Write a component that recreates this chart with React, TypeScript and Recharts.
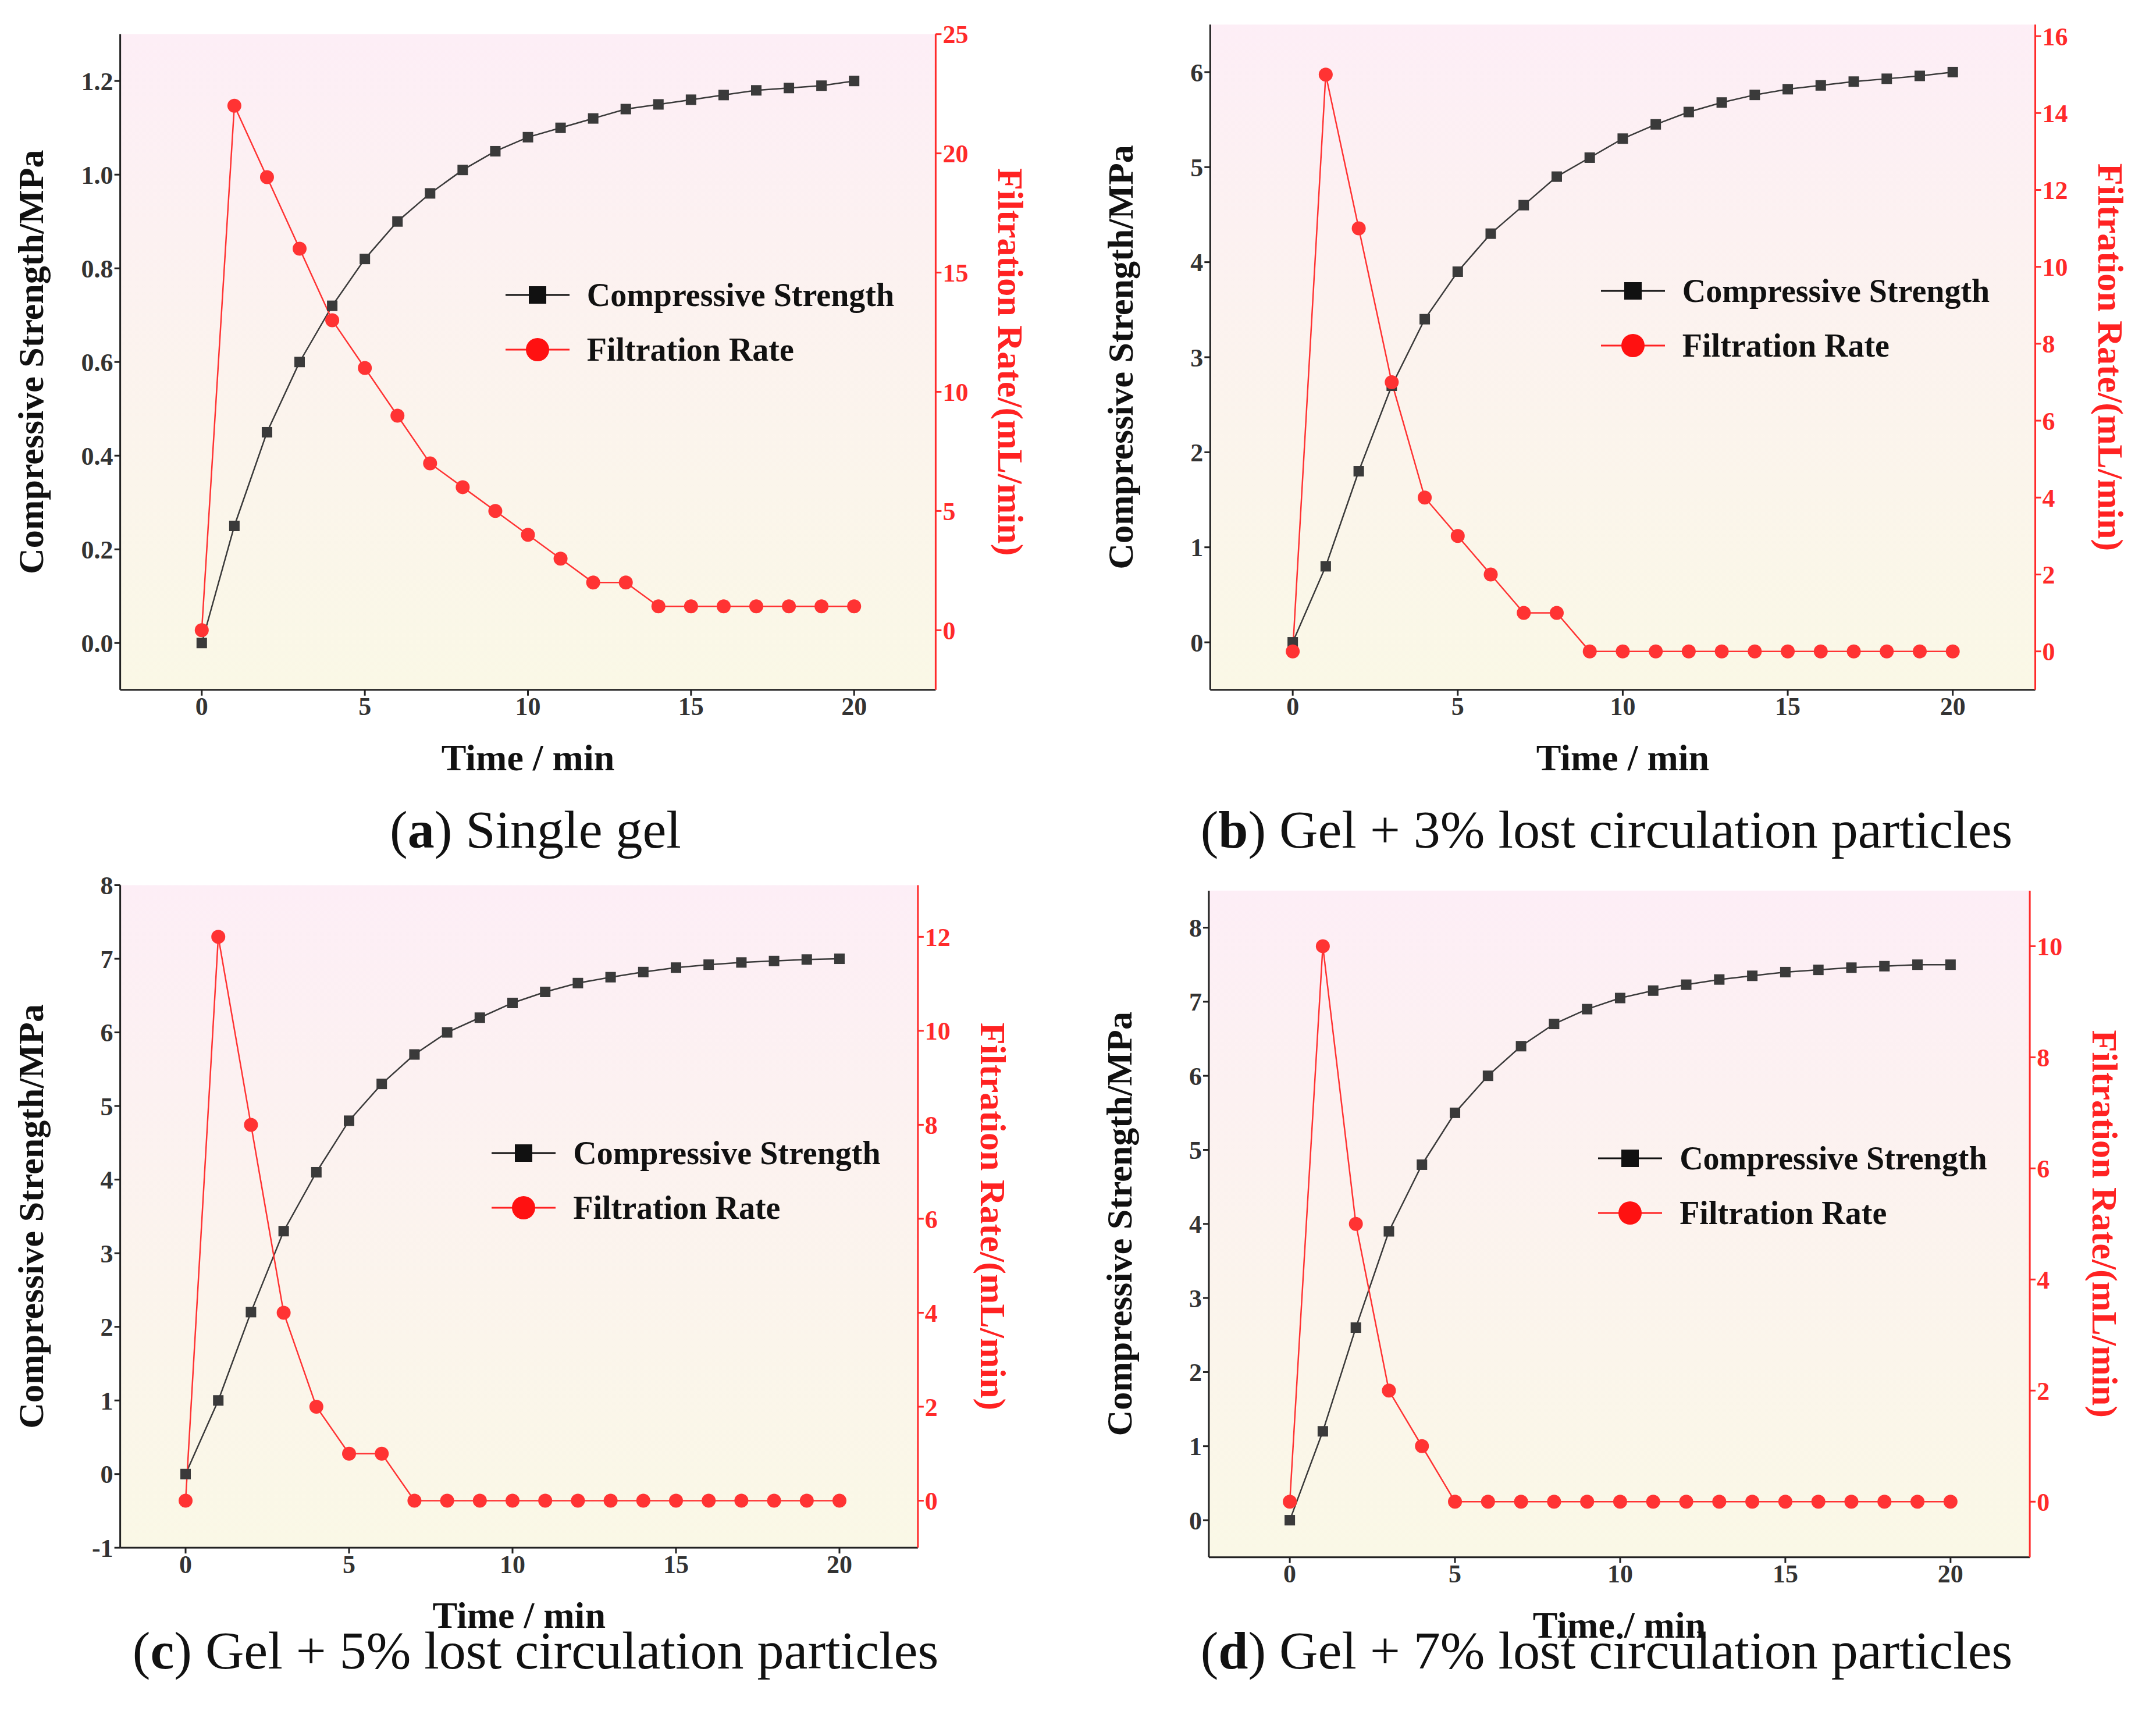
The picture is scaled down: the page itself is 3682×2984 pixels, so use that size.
import React from 'react';
import { ComposedChart, Line, XAxis, YAxis, CartesianGrid } from 'recharts';

const times = [0, 1, 2, 3, 4, 5, 6, 7, 8, 9, 10, 11, 12, 13, 14, 15, 16, 17, 18, 19, 20];

const strengthA = [0, 0.25, 0.45, 0.6, 0.72, 0.82, 0.9, 0.96, 1.01, 1.05, 1.08, 1.1, 1.12, 1.14, 1.15, 1.16, 1.17, 1.18, 1.185, 1.19, 1.2];
const filtrationA = [0, 22, 19, 16, 13, 11, 9, 7, 6, 5, 4, 3, 2, 2, 1, 1, 1, 1, 1, 1, 1];
const strengthB = [0, 0.8, 1.8, 2.7, 3.4, 3.9, 4.3, 4.6, 4.9, 5.1, 5.3, 5.45, 5.58, 5.68, 5.76, 5.82, 5.86, 5.9, 5.93, 5.96, 6.0];
const filtrationB = [0, 15, 11, 7, 4, 3, 2, 1, 1, 0, 0, 0, 0, 0, 0, 0, 0, 0, 0, 0, 0];
const strengthC = [0, 1, 2.2, 3.3, 4.1, 4.8, 5.3, 5.7, 6.0, 6.2, 6.4, 6.55, 6.67, 6.75, 6.82, 6.88, 6.92, 6.95, 6.97, 6.99, 7.0];
const filtrationC = [0, 12, 8, 4, 2, 1, 1, 0, 0, 0, 0, 0, 0, 0, 0, 0, 0, 0, 0, 0, 0];
const strengthD = [0, 1.2, 2.6, 3.9, 4.8, 5.5, 6.0, 6.4, 6.7, 6.9, 7.05, 7.15, 7.23, 7.3, 7.35, 7.4, 7.43, 7.46, 7.48, 7.5, 7.5];
const filtrationD = [0, 10, 5, 2, 1, 0, 0, 0, 0, 0, 0, 0, 0, 0, 0, 0, 0, 0, 0, 0, 0];

const xTicks = [0, 5, 10, 15, 20];

const S = 2.348;
const PW = 1841;
const PH = 1492;
const AXW = 110;
const FONT = '"Liberation Serif", "DejaVu Serif", serif';

const Square = (p: any) => (
  <rect x={p.cx - 9} y={p.cy - 9} width={18} height={18} fill="#3a3a3a" />
);

type PanelProps = {
  id: string;
  ox: number;
  oy: number;
  box: number[];
  xDomain: number[];
  leftDomain: number[];
  leftTicks: number[];
  leftFmt?: (v: number) => string;
  rightDomain: number[];
  rightTicks: number[];
  strength: number[];
  filtration: number[];
  legend: number[];
  caption: string;
  tag: string;
  captionY: number;
};

function Panel(p: PanelProps) {
  const data = times.map((t, i) => ({ t, s: p.strength[i], f: p.filtration[i] }));
  const [x1, y1, x2, y2] = p.box;
  const margin = {
    left: x1 * S - p.ox - AXW,
    right: p.ox + PW - x2 * S - AXW,
    top: y1 * S - p.oy,
    bottom: p.oy + PH - y2 * S - 90,
  };
  const tickStyle = { fontFamily: FONT, fontSize: 44, fontWeight: 700 };
  return (
    <div style={{ position: 'absolute', left: p.ox, top: p.oy, width: PW, height: PH }}>
      <ComposedChart width={PW} height={PH} data={data} margin={margin}>
        <defs>
          <linearGradient id={`bg-${p.id}`} x1="0" y1="0" x2="0" y2="1">
            <stop offset="0%" stopColor="#fdeef6" />
            <stop offset="100%" stopColor="#faf8e6" />
          </linearGradient>
        </defs>
        <CartesianGrid fill={`url(#bg-${p.id})`} horizontal={false} vertical={false} />
        <XAxis
          xAxisId="b"
          dataKey="t"
          type="number"
          domain={p.xDomain}
          ticks={xTicks}
          allowDataOverflow
          height={90}
          stroke="#222"
          strokeWidth={3}
          tick={{ ...tickStyle, fill: '#333' }}
          tickSize={10}
          label={{ value: 'Time / min', position: 'insideBottom', offset: -48, style: { fontFamily: FONT, fontSize: 64, fontWeight: 700, fill: '#111' } }}
        />
        <XAxis xAxisId="top" orientation="top" dataKey="t" type="number" domain={p.xDomain} allowDataOverflow ticks={xTicks} tick={false} stroke="#222" strokeWidth={3} height={0} />
        <YAxis
          yAxisId="l"
          domain={p.leftDomain}
          ticks={p.leftTicks}
          allowDataOverflow
          width={AXW}
          stroke="#222"
          strokeWidth={3}
          tickFormatter={p.leftFmt}
          tick={{ ...tickStyle, fill: '#333' }}
          tickSize={10}
          label={{ value: 'Compressive Strength/MPa', angle: -90, position: 'insideLeft', offset: -45, style: { fontFamily: FONT, fontSize: 62, fontWeight: 700, fill: '#111', textAnchor: 'middle' } }}
        />
        <YAxis
          yAxisId="r"
          orientation="right"
          domain={p.rightDomain}
          ticks={p.rightTicks}
          allowDataOverflow
          width={AXW}
          stroke="#ff2a2a"
          strokeWidth={3}
          tick={{ ...tickStyle, fill: '#ff2a2a' }}
          tickSize={10}
          label={{ value: 'Filtration Rate/(mL/min)', angle: 90, position: 'insideRight', offset: -20, style: { fontFamily: FONT, fontSize: 62, fontWeight: 700, fill: '#ff2222', textAnchor: 'middle' } }}
        />
        <Line xAxisId="b" yAxisId="l" dataKey="s" stroke="#3a3a3a" strokeWidth={2.5} dot={<Square />} isAnimationActive={false} />
        <Line xAxisId="b" yAxisId="r" dataKey="f" stroke="#ff3333" strokeWidth={2.5} dot={{ r: 12, fill: '#ff3333', stroke: 'none' }} isAnimationActive={false} />
      </ComposedChart>
      <div style={{ position: 'absolute', left: p.legend[0] * S - p.ox, top: p.legend[1] * S - p.oy, fontFamily: FONT, fontWeight: 700, fontSize: 56, lineHeight: '94px', color: '#111', whiteSpace: 'nowrap' }}>
        <div style={{ display: 'flex', alignItems: 'center' }}>
          <svg width={120} height={60}><line x1={0} y1={30} x2={110} y2={30} stroke="#111" strokeWidth={3} /><rect x={40} y={15} width={30} height={30} fill="#111" /></svg>
          <span style={{ marginLeft: 20 }}>Compressive Strength</span>
        </div>
        <div style={{ display: 'flex', alignItems: 'center' }}>
          <svg width={120} height={60}><line x1={0} y1={30} x2={110} y2={30} stroke="#ff2222" strokeWidth={3} /><circle cx={55} cy={30} r={20} fill="#ff1111" /></svg>
          <span style={{ marginLeft: 20 }}>Filtration Rate</span>
        </div>
      </div>
      <div style={{ position: 'absolute', left: 0, width: PW, top: p.captionY * S - p.oy - 50, textAlign: 'center', fontFamily: FONT, fontSize: 92, color: '#111' }}>
        (<b>{p.tag}</b>) {p.caption}
      </div>
    </div>
  );
}

export default function App() {
  return (
    <div style={{ position: 'absolute', left: 0, top: 0, width: 3682, height: 2984, background: '#fff' }}>
      <Panel id="a" ox={0} oy={0} box={[88, 25, 685, 505]} xDomain={[-2.5, 22.5]}
        leftDomain={[-0.1, 1.3]} leftTicks={[0, 0.2, 0.4, 0.6, 0.8, 1.0, 1.2]} leftFmt={(v) => v.toFixed(1)}
        rightDomain={[-2.5, 25]} rightTicks={[0, 5, 10, 15, 20, 25]}
        strength={strengthA} filtration={filtrationA} legend={[370, 196]} tag="a" caption="Single gel" captionY={606} />
      <Panel id="b" ox={1841} oy={0} box={[886, 18, 1490, 505]} xDomain={[-2.5, 22.5]}
        leftDomain={[-0.5, 6.5]} leftTicks={[0, 1, 2, 3, 4, 5, 6]}
        rightDomain={[-1, 16.3]} rightTicks={[0, 2, 4, 6, 8, 10, 12, 14, 16]}
        strength={strengthB} filtration={filtrationB} legend={[1172, 193]} tag="b" caption="Gel + 3% lost circulation particles" captionY={606} />
      <Panel id="c" ox={0} oy={1492} box={[88, 648, 672, 1133]} xDomain={[-2, 22.4]}
        leftDomain={[-1, 8]} leftTicks={[-1, 0, 1, 2, 3, 4, 5, 6, 7, 8]}
        rightDomain={[-1, 13.1]} rightTicks={[0, 2, 4, 6, 8, 10, 12]}
        strength={strengthC} filtration={filtrationC} legend={[360, 824]} tag="c" caption="Gel + 5% lost circulation particles" captionY={1207} />
      <Panel id="d" ox={1841} oy={1492} box={[885, 652, 1486, 1140]} xDomain={[-2.45, 22.4]}
        leftDomain={[-0.5, 8.5]} leftTicks={[0, 1, 2, 3, 4, 5, 6, 7, 8]}
        rightDomain={[-1, 11]} rightTicks={[0, 2, 4, 6, 8, 10]}
        strength={strengthD} filtration={filtrationD} legend={[1170, 828]} tag="d" caption="Gel + 7% lost circulation particles" captionY={1207} />
    </div>
  );
}
